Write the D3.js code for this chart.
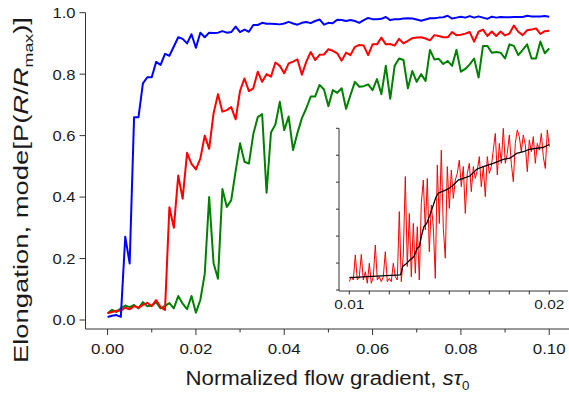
<!DOCTYPE html>
<html><head><meta charset="utf-8">
<script src="https://cdn.jsdelivr.net/npm/d3@7"></script>
<style>
body{margin:0;background:#fff}
svg{display:block}
text{font-family:"Liberation Sans",Arial,Helvetica,sans-serif;fill:#1a1a1a}
</style>
</head><body>
<svg id="chart" width="569" height="409"></svg>
<script>
// ---------- data ----------
const xStart = 0, xStep = 0.001;   // main curves sampled every 0.001
const blueValues = [0.010,0.014,0.016,0.010,0.271,0.184,0.660,0.660,0.770,0.790,0.790,0.840,0.830,0.866,0.860,0.890,0.920,0.915,0.900,0.930,0.886,0.935,0.920,0.935,0.934,0.935,0.940,0.935,0.937,0.955,0.937,0.945,0.938,0.960,0.960,0.967,0.964,0.964,0.963,0.962,0.965,0.970,0.965,0.961,0.967,0.970,0.966,0.973,0.978,0.961,0.967,0.966,0.977,0.976,0.973,0.976,0.973,0.967,0.976,0.983,0.979,0.979,0.980,0.986,0.976,0.979,0.979,0.981,0.982,0.981,0.978,0.974,0.978,0.982,0.982,0.984,0.985,0.990,0.981,0.984,0.987,0.984,0.989,0.984,0.988,0.984,0.980,0.987,0.984,0.986,0.985,0.985,0.986,0.986,0.986,0.990,0.988,0.988,0.988,0.989,0.987];
const redValues = [0.022,0.026,0.030,0.030,0.040,0.035,0.045,0.040,0.049,0.056,0.045,0.065,0.042,0.033,0.367,0.300,0.470,0.395,0.544,0.508,0.490,0.525,0.600,0.557,0.673,0.735,0.678,0.683,0.693,0.653,0.746,0.786,0.745,0.754,0.808,0.775,0.800,0.792,0.838,0.827,0.803,0.835,0.841,0.848,0.798,0.841,0.872,0.846,0.863,0.864,0.881,0.876,0.868,0.844,0.870,0.862,0.889,0.895,0.893,0.862,0.897,0.897,0.919,0.897,0.898,0.893,0.915,0.900,0.908,0.917,0.919,0.920,0.916,0.910,0.927,0.924,0.920,0.920,0.937,0.927,0.928,0.932,0.937,0.906,0.938,0.945,0.924,0.939,0.924,0.939,0.926,0.932,0.958,0.938,0.927,0.943,0.945,0.949,0.931,0.940,0.941];
const greenValues = [0.022,0.033,0.026,0.038,0.047,0.042,0.049,0.038,0.058,0.045,0.047,0.058,0.038,0.046,0.055,0.038,0.078,0.053,0.035,0.078,0.024,0.065,0.150,0.400,0.185,0.134,0.426,0.368,0.390,0.485,0.575,0.515,0.509,0.605,0.660,0.670,0.414,0.610,0.636,0.710,0.618,0.662,0.553,0.609,0.657,0.689,0.727,0.727,0.765,0.750,0.696,0.748,0.739,0.754,0.687,0.732,0.775,0.759,0.761,0.767,0.748,0.784,0.735,0.827,0.720,0.827,0.851,0.846,0.754,0.810,0.775,0.800,0.778,0.879,0.848,0.850,0.833,0.843,0.827,0.879,0.808,0.817,0.832,0.851,0.789,0.892,0.892,0.870,0.872,0.870,0.851,0.897,0.892,0.862,0.879,0.897,0.851,0.851,0.906,0.868,0.884];
const seriesNames = ["green","red","blue"];
const seriesColors = {blue:"#0000ff", red:"#ff0000", green:"#008000"};

const xMajorTicks = [0,0.02,0.04,0.06,0.08,0.10];
const xMinorTicks = [0.01,0.03,0.05,0.07,0.09];
const yTicks = [0,0.2,0.4,0.6,0.8,1.0];

// inset: fine scan of the red curve, sampled every 0.0001 (arbitrary units)
const insetXStart = 0.010, insetXStep = 0.0001;
const insetRed = [0.31,0.49,0.37,1.30,0.37,0.49,1.32,0.37,0.68,0.25,0.99,0.25,0.49,1.67,0.37,0.49,0.31,0.49,1.42,0.31,0.43,0.31,0.99,0.49,0.37,2.91,0.31,1.30,4.21,0.87,2.84,0.49,2.47,0.62,2.35,0.37,3.22,4.08,2.23,4.14,1.42,3.15,2.35,0.43,4.64,2.47,5.19,2.29,1.18,4.58,3.03,4.45,3.40,4.08,4.33,4.82,3.83,4.58,2.84,4.33,4.70,3.65,4.58,4.14,4.45,4.95,3.83,4.58,3.46,4.95,4.33,4.58,5.19,5.81,4.27,5.44,4.70,6.00,4.70,5.07,5.75,4.70,4.02,5.44,5.94,5.69,5.13,5.75,5.38,4.39,5.57,5.13,5.69,4.70,5.44,5.19,5.81,4.95,4.51,5.94,5.32];
const insetSmoothX = [0.0100,0.01253,0.01258,0.01267,0.01283,0.01303,0.01323,0.0134,0.0135,0.01362,0.01373,0.01387,0.01403,0.0142,0.01433,0.01445,0.0147,0.01495,0.0152,0.01545,0.0157,0.01603,0.01637,0.0167,0.0172,0.0177,0.01803,0.01837,0.0187,0.0190,0.01937,0.0197,0.0200];
const insetSmoothY = [0.46,0.56,0.59,0.87,0.96,1.11,1.24,1.55,1.61,2.04,2.35,2.47,2.78,3.15,3.44,3.59,3.67,3.75,3.90,4.08,4.14,4.23,4.48,4.58,4.70,4.85,4.89,5.07,5.13,5.22,5.26,5.29,5.40];
const insetXLabels = [0.01,0.02];
const insetYTicks = [0,1,2,3,4,5,6];

// ---------- drawing ----------
const svg = d3.select("#chart");
const axisColor = "#333";

const x = d3.scaleLinear().domain([-0.005,0.105]).range([85.5,571.3]);
const y = d3.scaleLinear().domain([0,1]).range([320,12.7]);
const yBottom = 329;

// curves
const mk = vals => vals.map((v,i)=>({x:xStart+i*xStep, y:v}));
const series = {blue:mk(blueValues), red:mk(redValues), green:mk(greenValues)};
const line = d3.line().x(d=>x(d.x)).y(d=>y(d.y));
seriesNames.forEach(n=>{
  svg.append("path").datum(series[n]).attr("d",line)
    .attr("fill","none").attr("stroke",seriesColors[n]).attr("stroke-width",2)
    .attr("stroke-linejoin","round");
});

// x axis
const gx = svg.append("g").attr("transform",`translate(0,${yBottom})`);
gx.append("line").attr("x1",85.5).attr("x2",569).attr("stroke",axisColor);
gx.selectAll(".maj").data(xMajorTicks).enter().append("line")
  .attr("x1",d=>x(d)).attr("x2",d=>x(d)).attr("y1",0).attr("y2",6).attr("stroke",axisColor);
gx.selectAll(".min").data(xMinorTicks).enter().append("line")
  .attr("x1",d=>x(d)).attr("x2",d=>x(d)).attr("y1",0).attr("y2",3.5).attr("stroke",axisColor);
gx.selectAll(".lab").data(xMajorTicks).enter().append("text")
  .attr("x",d=>x(d)).attr("y",25).attr("text-anchor","middle").attr("font-size",15)
  .attr("textLength",33).attr("lengthAdjust","spacingAndGlyphs")
  .text(d=>d3.format(".2f")(d));

// y axis
const gy = svg.append("g").attr("transform","translate(85.5,0)");
gy.append("line").attr("y1",y(1)).attr("y2",yBottom).attr("stroke",axisColor);
gy.selectAll(".t").data(yTicks).enter().append("line")
  .attr("x1",-6).attr("x2",0).attr("y1",d=>y(d)).attr("y2",d=>y(d)).attr("stroke",axisColor);
gy.selectAll(".lab").data(yTicks).enter().append("text")
  .attr("x",-10).attr("y",d=>y(d)).attr("dy","0.36em").attr("text-anchor","end").attr("font-size",15)
  .attr("textLength",23).attr("lengthAdjust","spacingAndGlyphs")
  .text(d=>d3.format(".1f")(d));

// axis titles
const xt = svg.append("text").attr("x",327.5).attr("y",385).attr("text-anchor","middle").attr("font-size",20)
  .attr("textLength",284).attr("lengthAdjust","spacingAndGlyphs");
xt.append("tspan").text("Normalized flow gradient, ");
xt.append("tspan").attr("font-style","italic").text("s\u03C4");
xt.append("tspan").attr("font-size",12).attr("dy",5).text("0");

const yt = svg.append("text").attr("transform","translate(28,190) rotate(-90)").attr("text-anchor","middle").attr("font-size",20)
  .attr("textLength",346).attr("lengthAdjust","spacingAndGlyphs");
yt.append("tspan").text("Elongation, mode[P(");
yt.append("tspan").attr("font-style","italic").text("R");
yt.append("tspan").text("/");
yt.append("tspan").attr("font-style","italic").text("R");
yt.append("tspan").attr("font-size",13).attr("dy",5).text("max");
yt.append("tspan").attr("dy",-5).text(")]");

// ---------- inset ----------
const ix = d3.scaleLinear().domain([0.01,0.02]).range([349.3,549.3]);
const iy = d3.scaleLinear().domain([0,6]).range([290,128.3]);
const iLeft = 339, iBottom = 291, iRight = 568;
const ig = svg.append("g");
const insetPts = insetRed.map((v,i)=>({x:insetXStart+i*insetXStep, y:v}));
const iline = d3.line().x(d=>ix(d.x)).y(d=>iy(d.y));
ig.append("path").datum(insetPts).attr("d",iline).attr("fill","none")
  .attr("stroke","#ff0000").attr("stroke-width",1).attr("stroke-linejoin","round");
const smooth = insetSmoothX.map((v,i)=>({x:v,y:insetSmoothY[i]}));
ig.append("path").datum(smooth).attr("d",iline).attr("fill","none")
  .attr("stroke","#000").attr("stroke-width",1.3);

ig.append("line").attr("x1",iLeft).attr("x2",iLeft).attr("y1",iy(6)).attr("y2",iBottom).attr("stroke",axisColor);
ig.append("line").attr("x1",iLeft).attr("x2",iRight).attr("y1",iBottom).attr("y2",iBottom).attr("stroke",axisColor);
ig.selectAll(".yt").data(insetYTicks).enter().append("line")
  .attr("x1",iLeft-3).attr("x2",iLeft).attr("y1",d=>iy(d)).attr("y2",d=>iy(d)).attr("stroke",axisColor);
const iTicks = d3.range(0,11).map(i=>0.01+i*0.001);
ig.selectAll(".xt").data(iTicks).enter().append("line")
  .attr("x1",d=>ix(d)).attr("x2",d=>ix(d)).attr("y1",iBottom).attr("y2",iBottom+3.5).attr("stroke",axisColor);
ig.selectAll(".xl").data(insetXLabels).enter().append("text")
  .attr("x",d=>ix(d)).attr("y",309).attr("text-anchor","middle").attr("font-size",13)
  .attr("textLength",30).attr("lengthAdjust","spacingAndGlyphs")
  .text(d=>d3.format(".2f")(d));
</script>
</body></html>
